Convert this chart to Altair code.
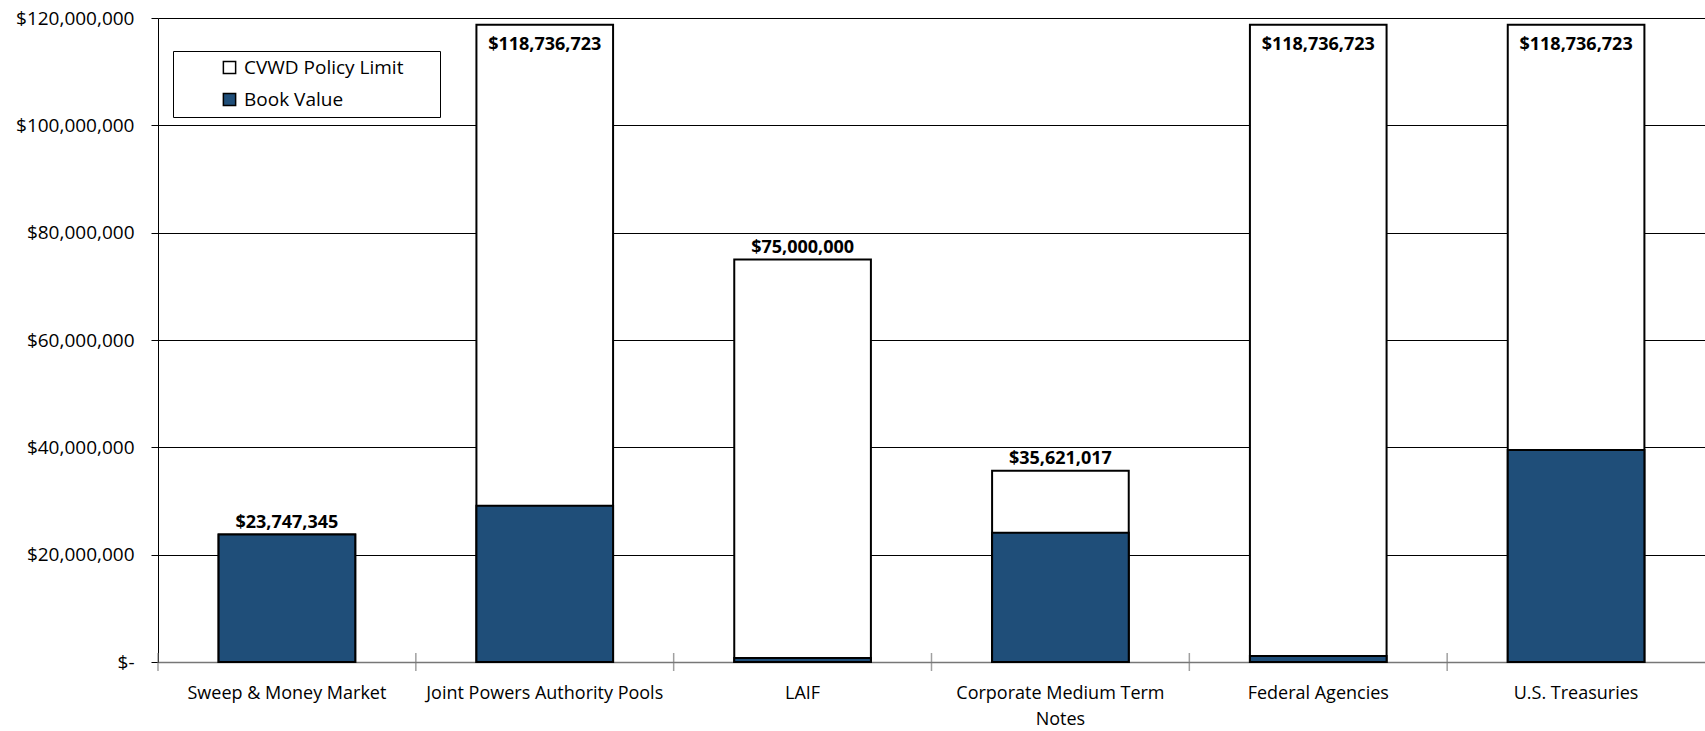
import altair as alt
import pandas as pd

categories = ["Sweep & Money Market", "Joint Powers Authority Pools", "LAIF",
              "Corporate Medium Term Notes", "Federal Agencies", "U.S. Treasuries"]
policy_limit = [23747345, 118736723, 75000000, 35621017, 118736723, 118736723]
book_value = [23747345, 29100000, 750000, 24100000, 1100000, 39500000]
y_ticks = [0, 20000000, 40000000, 60000000, 80000000, 100000000, 120000000]

df = pd.DataFrame({"cat": categories, "limit": policy_limit, "book": book_value})
df["label"] = df["limit"].map(lambda v: "${:,}".format(v))

FONT = "Open Sans"
BLUE = "#1F4E79"
W, H = 1547, 644
P_IN, P_OUT = 0.47, 0.235
STEP = W / (len(categories) - P_IN + 2 * P_OUT)
HALF_GAP = P_IN * STEP / 2

x_scale = alt.Scale(paddingInner=P_IN, paddingOuter=P_OUT)
x_axis = alt.Axis(labelAngle=0, labelFont=FONT, labelFontSize=18, labelColor="#000",
                  ticks=False, domain=True, domainColor="#777", domainWidth=1.5,
                  labelPadding=22, labelLineHeight=26, labelLimit=400,
                  labelOverlap=False, grid=False, orient="bottom",
                  labelExpr="datum.label == 'Corporate Medium Term Notes' ? ['Corporate Medium Term', 'Notes'] : datum.label")

y_scale = alt.Scale(domain=[0, 120000000], nice=False)
y_axis = alt.Axis(values=y_ticks, labelFont=FONT, labelFontSize=19, labelColor="#000",
                  grid=True, gridColor="#000", gridWidth=1,
                  domain=True, domainColor="#000", domainWidth=1,
                  ticks=True, tickColor="#000", tickSize=7, labelPadding=17,
                  labelExpr="datum.value == 0 ? '$-' : '$' + format(datum.value, ',')")


def X(**kw):
    return alt.X("cat:N", sort=categories, title=None, scale=x_scale, axis=x_axis, **kw)


def Y(field):
    return alt.Y(field, title=None, scale=y_scale, axis=y_axis)


legend_scale = alt.Scale(domain=["CVWD Policy Limit", "Book Value"], range=["#FFFFFF", BLUE])
legend = alt.Legend(title="\u00a0", titleOrient="right", titleFontSize=4,
                    titlePadding=30, titleColor="#fff",
                    orient="none", legendX=15, legendY=33,
                    labelFont=FONT, labelFontSize=19, labelColor="#000",
                    symbolType="square", symbolSize=150,
                    symbolStrokeColor="#000", symbolStrokeWidth=1.5,
                    symbolOffset=40, labelOffset=5,
                    strokeColor="#000", fillColor="#fff", padding=7,
                    rowPadding=12, labelLimit=300, direction="vertical")

base = alt.Chart(df)

limit_bars = base.transform_calculate(series="'CVWD Policy Limit'").mark_bar(
    stroke="#000", strokeWidth=2).encode(
    x=X(), y=Y("limit:Q"),
    fill=alt.Fill("series:N", scale=legend_scale, legend=legend))

book_bars = base.transform_calculate(series="'Book Value'").mark_bar(
    stroke="#000", strokeWidth=2).encode(
    x=X(), y=Y("book:Q"),
    fill=alt.Fill("series:N", scale=legend_scale, legend=legend))

labels_out = base.transform_filter("datum.limit < 100000000").mark_text(
    font=FONT, fontSize=18, fontWeight="bold", baseline="bottom", dy=-3, color="#000").encode(
    x=X(), y=Y("limit:Q"), text="label:N")

labels_in = base.transform_filter("datum.limit >= 100000000").mark_text(
    font=FONT, fontSize=18, fontWeight="bold", baseline="top", dy=11, color="#000").encode(
    x=X(), y=Y("limit:Q"), text="label:N")

# category separator ticks crossing the x axis (Excel style, between categories)
sep_ticks = base.mark_tick(orient="vertical", size=18, thickness=1.5, color="#777",
                           xOffset=-HALF_GAP).encode(
    x=X(bandPosition=0),
    y=alt.Y(datum=0, title=None, scale=y_scale, axis=y_axis))

chart = alt.layer(limit_bars, book_bars, labels_out, labels_in, sep_ticks).properties(
    width=W, height=H,
    autosize=alt.AutoSizeParams(type="none"),
    padding={"left": 158, "top": 18, "right": 0, "bottom": 69},
    background="#ffffff"
).configure_view(stroke=None)

chart.save("out.html", embed_options={"renderer": "svg", "actions": False})
